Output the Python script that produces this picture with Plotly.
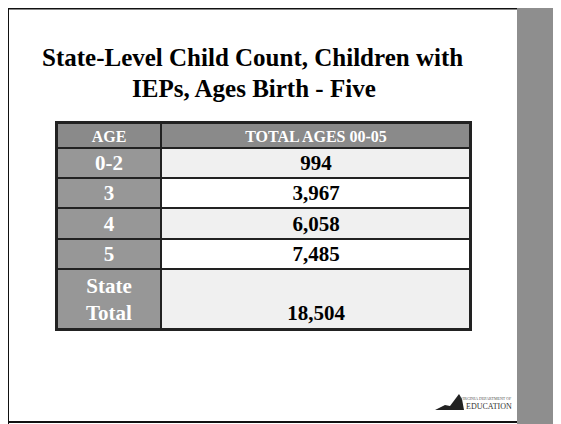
import plotly.graph_objects as go

title_lines = ["State-Level Child Count, Children with", "IEPs, Ages Birth - Five"]
header_labels = ["AGE", "TOTAL AGES 00-05"]
age_groups = ["0-2", "3", "4", "5", "State<br>Total"]
totals = ["994", "3,967", "6,058", "7,485", "<br>18,504"]

col_edges = [0, 104, 413]
row_edges = [0, 25, 55, 85, 116, 146, 206]  # header, 4 rows, total row

W, H = 561, 424
OX, OY = 8, 8          # page body offset
FW, FH = W - OX, H - OY


def px(x):
    return (x - OX) / FW


def py(y):
    return 1 - (y - OY) / FH


serif = "Liberation Serif, Times New Roman, serif"

c_header, c_first, c_light, c_white = "#8a8a8a", "#979797", "#f0f0f0", "#ffffff"
colorscale = [[0, c_header], [1 / 3, c_first], [2 / 3, c_light], [1, c_white]]
body_shade = [2, 3, 2, 3, 2]

common = dict(colorscale=colorscale, zmin=0, zmax=3, showscale=False,
              xgap=2, ygap=2, hoverinfo="skip", texttemplate="%{text}")

header_tr = go.Heatmap(
    x=col_edges, y=row_edges[:2],
    z=[[0, 0]], text=[header_labels],
    textfont=dict(family=serif, size=16, color="white", weight="bold"),
    **common,
)
first_tr = go.Heatmap(
    x=col_edges[:2], y=row_edges[1:],
    z=[[1] for _ in age_groups], text=[[a] for a in age_groups],
    textfont=dict(family=serif, size=21, color="white", weight="bold"),
    **common,
)
second_tr = go.Heatmap(
    x=col_edges[1:], y=row_edges[1:],
    z=[[s] for s in body_shade], text=[[t] for t in totals],
    textfont=dict(family=serif, size=21, color="black", weight="bold"),
    **common,
)

fig = go.Figure([header_tr, first_tr, second_tr])

axis_common = dict(showgrid=False, zeroline=False, showticklabels=False, ticks="",
                   showline=True, mirror=True, linecolor="#222222", linewidth=2)
fig.update_xaxes(domain=[px(57), px(470)], range=[col_edges[0], col_edges[-1]], **axis_common)
fig.update_yaxes(domain=[py(329), py(123)], range=[row_edges[-1], row_edges[0]], **axis_common)

shapes = [
    dict(type="rect", xref="paper", yref="paper", x0=px(517), x1=1, y0=0, y1=1,
         fillcolor="#8e8e8e", line=dict(width=0), layer="below"),
    dict(type="line", xref="paper", yref="paper", x0=0, x1=px(517), y0=py(422), y1=py(422),
         line=dict(color="#111111", width=2)),
    dict(type="line", xref="paper", yref="paper", x0=0, x1=px(517), y0=1, y1=1,
         line=dict(color="#111111", width=3)),
    dict(type="line", xref="paper", yref="paper", x0=0, x1=0, y0=0, y1=1,
         line=dict(color="#111111", width=2)),
    dict(type="path", xref="paper", yref="paper",
         path=f"M {px(435)} {py(410)} L {px(445)} {py(405)} L {px(450)} {py(406)} L {px(456)} {py(398)} "
              f"L {px(459)} {py(394)} L {px(462)} {py(399)} L {px(464)} {py(410)} Z",
         fillcolor="#222222", line=dict(width=0)),
]

annotations = [
    dict(text=f"<b>{title_lines[0]}</b>", x=px(252), y=py(57), xref="paper", yref="paper",
         showarrow=False, font=dict(family=serif, size=25, color="black"), xanchor="center", yanchor="middle"),
    dict(text=f"<b>{title_lines[1]}</b>", x=px(254), y=py(88), xref="paper", yref="paper",
         showarrow=False, font=dict(family=serif, size=25, color="black"), xanchor="center", yanchor="middle"),
    dict(text="VIRGINIA DEPARTMENT OF", x=px(514), y=py(398), xref="paper", yref="paper",
         showarrow=False, font=dict(family="Liberation Serif, serif", size=4, color="#555555"),
         xanchor="right", yanchor="middle"),
    dict(text="EDUCATION", x=px(514), y=py(406), xref="paper", yref="paper",
         showarrow=False, font=dict(family="Liberation Serif, serif", size=8, color="#333333"),
         xanchor="right", yanchor="middle"),
]

fig.update_layout(
    width=FW, height=FH,
    margin=dict(l=0, r=0, t=0, b=0),
    paper_bgcolor="white",
    plot_bgcolor="#222222",
    shapes=shapes,
    annotations=annotations,
)

fig.write_html("out.html")
